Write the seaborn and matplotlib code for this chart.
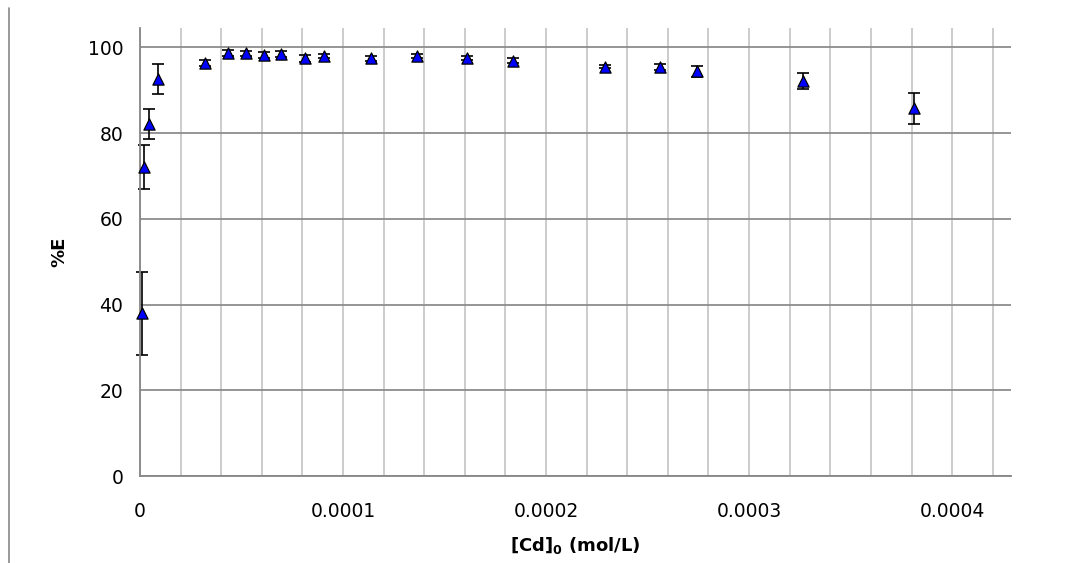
import numpy as np
import pandas as pd
import matplotlib
matplotlib.use("Agg")
import matplotlib.pyplot as plt
from matplotlib.ticker import MultipleLocator, FixedLocator, FixedFormatter
from matplotlib.lines import Line2D
import seaborn as sns

# ---- data ----
cd0 = [0.8e-6, 1.8e-6, 4.3e-6, 8.7e-6, 32.2e-6, 43.5e-6, 52.0e-6, 61.2e-6, 69.5e-6,
       81.1e-6, 90.6e-6, 113.6e-6, 136.6e-6, 160.9e-6, 183.6e-6, 229.0e-6, 256.3e-6,
       274.2e-6, 326.4e-6, 381.3e-6]
pct_e = [38.0, 72.0, 82.0, 92.5, 96.3, 98.6, 98.6, 98.1, 98.4,
         97.4, 97.9, 97.4, 98.0, 97.5, 96.9, 95.5, 95.3, 94.4, 92.1, 85.8]
err = [9.7, 5.1, 3.5, 3.5, 0.7, 0.7, 0.6, 0.7, 0.7,
       0.9, 0.5, 0.6, 0.5, 0.5, 0.6, 0.4, 0.7, 1.3, 1.8, 3.6]
x_ticks = [0, 0.0001, 0.0002, 0.0003, 0.0004]
x_tick_labels = ["0", "0.0001", "0.0002", "0.0003", "0.0004"]
y_ticks = [0, 20, 40, 60, 80, 100]
x_label = r"[Cd]$_\mathbf{0}$ (mol/L)"
y_label = "%E"

df = pd.DataFrame({"x": cd0, "y": pct_e, "err": err})

sns.set_style("white")
plt.rcParams["font.family"] = ["DejaVu Sans"]

W, H = 1071, 563
fig = plt.figure(figsize=(W / 100, H / 100), dpi=100)
ax = fig.add_axes([140 / W, (H - 476) / H, (1011 - 140) / W, (476 - 28) / H])

ax.set_xlim(0, 0.000429)
ax.set_ylim(0, 104.5)

# gridlines
ax.xaxis.set_major_locator(FixedLocator(x_ticks))
ax.xaxis.set_major_formatter(FixedFormatter(x_tick_labels))
ax.xaxis.set_minor_locator(MultipleLocator(0.00002))
ax.yaxis.set_major_locator(FixedLocator(y_ticks))
ax.grid(True, axis="x", which="both", color="#BFBFBF", lw=1.1, zorder=0)
ax.grid(True, axis="y", which="major", color="#8C8C8C", lw=1.3, zorder=0)
ax.set_axisbelow(True)

# error bars
eb = ax.errorbar(df["x"], df["y"], yerr=df["err"], fmt="none", ecolor="black",
                 elinewidth=1.2, capsize=4, capthick=1.2, zorder=2)
for art in eb.get_children():
    art.set_clip_on(False)
sns.scatterplot(data=df, x="x", y="y", marker="^", s=65, color="#0000FF",
                edgecolor="black", linewidth=0.9, ax=ax, zorder=3, legend=False,
                clip_on=False)

for side in ["top", "right"]:
    ax.spines[side].set_visible(False)
for side in ["left", "bottom"]:
    ax.spines[side].set_color("#868686")
    ax.spines[side].set_linewidth(1.3)

ax.tick_params(axis="both", which="both", length=0, labelsize=13.5, colors="black")
ax.tick_params(axis="x", pad=19)
ax.tick_params(axis="y", pad=12)

ax.set_xlabel(x_label, fontsize=13, fontweight="bold", labelpad=10, color="black")
ax.set_ylabel(y_label, fontsize=13, fontweight="bold", labelpad=14, color="black")

fig.add_artist(Line2D([9 / W, 9 / W], [0, 1 - 8 / H], transform=fig.transFigure,
                      color="#888888", lw=1.2))

fig.savefig("out.png", dpi=100)
